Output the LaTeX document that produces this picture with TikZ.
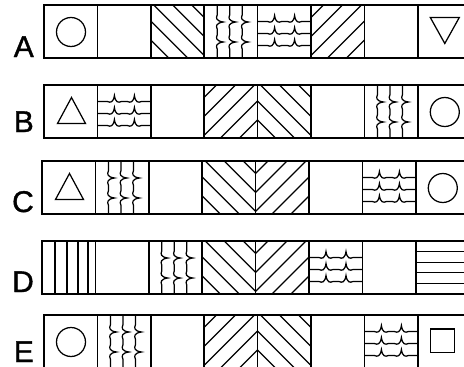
\documentclass[tikz,border=0pt]{standalone}
\usepackage{fontspec}
\newfontfamily\lblfont[FakeBold=1.2]{Liberation Sans}
\newcommand{\cellw}{53.4}
\newcommand{\cellh}{53}
\tikzset{
  cellbox/.style={draw,line width=1.7pt,minimum width=53.4pt,minimum height=53pt,
                  inner sep=0pt,outer sep=0pt,anchor=north west},
  sym/.style={line width=1.25pt},                % circle, triangles, square
  hatch/.style={line width=1.25pt},              % lines inside a cell
  rowlbl/.style={font=\lblfont\fontsize{30}{30}\selectfont,inner sep=0pt,anchor=base east}
}
% cell fillings, in cell coordinates (origin at top-left corner, y downwards)
\newcommand{\patblank}{}
\newcommand{\patcirc}{\draw[sym] (27,27) circle[radius=14.5];}
\newcommand{\pattriup}{\draw[sym] (27.5,12.5) -- (41.5,38.5) -- (13.5,38.5) -- cycle;}
\newcommand{\pattridown}{\draw[sym] (12.5,12.5) -- (41.5,12.5) -- (27,38.5) -- cycle;}
\newcommand{\patsquare}{\draw[sym] (13,14) rectangle (36.5,37.5);}
\newcommand{\patbs}{\clip (0,0) rectangle (\cellw,\cellh);
  \foreach \off in {-35,-16,3,22,41} \draw[hatch] (\off-10,-10) -- (\off+70,70);}
\newcommand{\patfs}{\clip (0,0) rectangle (\cellw,\cellh);
  \foreach \off in {-35,-16,3,22,41} \draw[hatch] (\cellw-\off+10,-10) -- (\cellw-\off-70,70);}
\newcommand{\patvlines}{\foreach \xx in {13,25,36,46} \draw[hatch] (\xx,0) -- (\xx,\cellh);}
\newcommand{\pathlines}{\foreach \yy in {10.6,21.2,31.8,42.4} \draw[hatch] (0,\yy) -- (\cellw,\yy);}
\newcommand{\patwavy}{\foreach \yy in {16.5,28.5,40.5}
  \draw[hatch] (0,\yy) -- (10,\yy) .. controls (13,\yy+1.5) and (16,\yy+1) .. (17,\yy-6)
    .. controls (18,\yy+1) and (21,\yy+1.5) .. (24,\yy) -- (30,\yy)
    .. controls (33,\yy+1.5) and (36,\yy+1) .. (37,\yy-6)
    .. controls (38,\yy+1) and (41,\yy+1.5) .. (44,\yy) -- (\cellw,\yy);}
\newcommand{\patsquig}{\foreach \xx in {13,25.5,38}
  \draw[hatch] (\xx,0) -- (\xx,10) .. controls (\xx-1.5,13) and (\xx-1,16) .. (\xx+6,17)
    .. controls (\xx-1,18) and (\xx-1.5,21) .. (\xx,24) -- (\xx,30)
    .. controls (\xx-1.5,33) and (\xx-1,36) .. (\xx+6,37)
    .. controls (\xx-1,38) and (\xx-1.5,41) .. (\xx,44) -- (\xx,\cellh);}

\begin{document}
\begin{tikzpicture}[x=1pt,y=-1pt]
  \fill[white] (0,0) rectangle (464,367);
  \useasboundingbox (0,0) rectangle (464,367);
  \foreach \rn/\ty/\xo/\lb/\cells in {
      A/5/44/1/{circ,blank,bs,squig,wavy,fs,blank,tridown},
      B/85/44/6/{triup,wavy,blank,fs,bs,blank,squig,circ},
      C/161/42/2/{triup,squig,blank,bs,fs,blank,wavy,circ},
      D/241/42/2/{vlines,blank,squig,bs,fs,wavy,blank,hlines},
      E/315/44/6/{circ,squig,blank,fs,bs,blank,wavy,square}}{
    \node[rowlbl] (lbl\rn) at (34,\ty+\cellh-\lb) {\rn};
    \foreach \p [count=\k] in \cells {
      \node[cellbox] (\rn\k) at (\xo+\k*\cellw-\cellw,\ty) {};
      \begin{scope}[shift={(\rn\k.north west)}]
        \csname pat\p\endcsname
      \end{scope}
    }
  }
\end{tikzpicture}
\end{document}
